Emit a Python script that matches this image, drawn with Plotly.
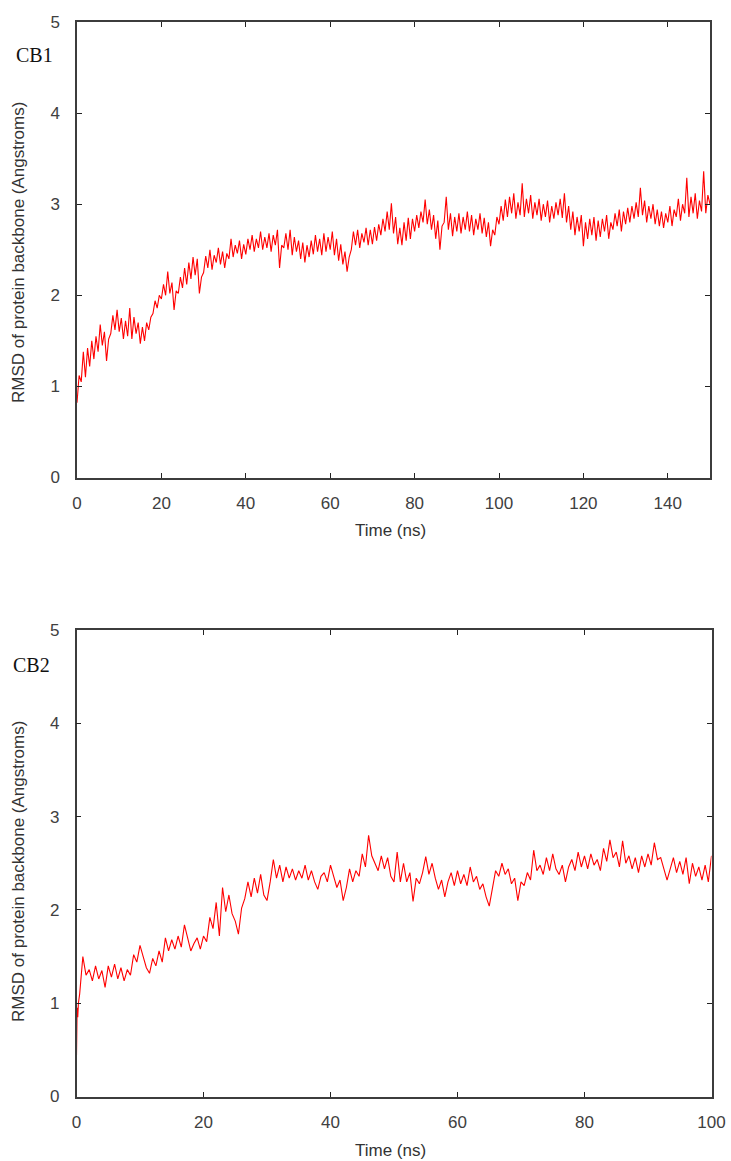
import numpy as np
import plotly.graph_objects as go

# ---------------- data ----------------
# CB1: RMSD (Angstroms) sampled every 0.5 ns from 0 to 150 ns
cb1_step = 0.5
cb1_rmsd = [
    0.82, 1.12, 1.05, 1.38, 1.10, 1.42, 1.22, 1.50, 1.30, 1.55, 1.38, 1.68, 1.45, 1.60, 1.28, 1.52, 1.58, 1.78, 1.62, 1.84,
    1.60, 1.75, 1.52, 1.72, 1.55, 1.86, 1.52, 1.76, 1.58, 1.70, 1.47, 1.65, 1.50, 1.70, 1.62, 1.76, 1.80, 1.94, 1.86, 2.00,
    1.96, 2.12, 2.00, 2.26, 2.02, 2.14, 1.84, 2.05, 2.02, 2.20, 2.08, 2.30, 2.12, 2.36, 2.18, 2.42, 2.22, 2.40, 2.02, 2.20,
    2.25, 2.43, 2.30, 2.50, 2.28, 2.44, 2.36, 2.52, 2.34, 2.48, 2.30, 2.46, 2.40, 2.62, 2.42, 2.55, 2.46, 2.60, 2.40, 2.56,
    2.45, 2.62, 2.50, 2.66, 2.48, 2.62, 2.52, 2.70, 2.50, 2.64, 2.52, 2.68, 2.48, 2.66, 2.55, 2.72, 2.30, 2.55, 2.52, 2.68,
    2.50, 2.72, 2.44, 2.64, 2.48, 2.60, 2.40, 2.58, 2.36, 2.55, 2.42, 2.60, 2.45, 2.66, 2.48, 2.62, 2.44, 2.68, 2.48, 2.64,
    2.50, 2.70, 2.44, 2.62, 2.38, 2.56, 2.34, 2.48, 2.26, 2.42, 2.50, 2.70, 2.55, 2.72, 2.52, 2.68, 2.58, 2.74, 2.55, 2.72,
    2.56, 2.75, 2.60, 2.78, 2.66, 2.84, 2.70, 2.92, 2.72, 3.01, 2.68, 2.86, 2.56, 2.74, 2.55, 2.80, 2.60, 2.85, 2.62, 2.84,
    2.70, 2.88, 2.74, 2.92, 2.80, 3.05, 2.78, 2.94, 2.72, 2.88, 2.62, 2.82, 2.50, 2.76, 2.80, 3.08, 2.72, 2.90, 2.65, 2.86,
    2.70, 2.90, 2.68, 2.86, 2.72, 2.92, 2.70, 2.88, 2.66, 2.84, 2.72, 2.90, 2.68, 2.85, 2.64, 2.80, 2.54, 2.72, 2.66, 2.86,
    2.78, 2.98, 2.82, 3.05, 2.86, 3.08, 2.90, 3.12, 2.84, 3.02, 2.88, 3.23, 2.86, 3.06, 2.90, 3.10, 2.84, 3.02, 2.88, 3.06,
    2.82, 3.00, 2.86, 3.04, 2.80, 2.98, 2.84, 3.02, 2.88, 3.06, 2.85, 3.12, 2.80, 2.98, 2.72, 2.92, 2.66, 2.86, 2.70, 2.88,
    2.54, 2.80, 2.62, 2.84, 2.66, 2.86, 2.60, 2.82, 2.64, 2.84, 2.70, 2.88, 2.62, 2.80, 2.72, 2.90, 2.76, 2.94, 2.70, 2.92,
    2.78, 2.96, 2.80, 2.98, 2.84, 3.02, 2.86, 3.18, 2.88, 3.04, 2.80, 2.98, 2.84, 3.00, 2.78, 2.94, 2.76, 2.92, 2.74, 2.90,
    2.80, 2.98, 2.76, 2.94, 2.86, 3.06, 2.82, 3.00, 2.90, 3.29, 2.86, 3.08, 2.90, 3.12, 2.84, 3.04, 2.92, 3.36, 2.90, 3.10,
    3.00,
]

# CB2: first fast rise (0-0.3 ns) then every 0.5 ns from 0.5 to 100 ns
cb2_start_time = [0.0, 0.1, 0.2, 0.3]
cb2_start_rmsd = [0.44, 0.95, 0.85, 1.00]
cb2_step = 0.5
cb2_rmsd = [
    1.10, 1.50, 1.30, 1.36, 1.24, 1.40, 1.26, 1.35, 1.17, 1.40, 1.28, 1.42, 1.26, 1.38, 1.24, 1.36, 1.30, 1.52, 1.44, 1.62,
    1.50, 1.38, 1.32, 1.48, 1.40, 1.56, 1.44, 1.70, 1.56, 1.68, 1.58, 1.72, 1.60, 1.84, 1.70, 1.56, 1.64, 1.70, 1.58, 1.72,
    1.66, 1.92, 1.80, 2.08, 1.72, 2.24, 1.98, 2.16, 1.96, 1.88, 1.74, 2.02, 2.12, 2.30, 2.14, 2.34, 2.18, 2.38, 2.16, 2.10,
    2.30, 2.54, 2.34, 2.48, 2.30, 2.46, 2.34, 2.44, 2.32, 2.42, 2.34, 2.48, 2.32, 2.42, 2.30, 2.22, 2.36, 2.40, 2.30, 2.48,
    2.36, 2.24, 2.32, 2.10, 2.24, 2.44, 2.30, 2.42, 2.36, 2.60, 2.46, 2.80, 2.58, 2.50, 2.42, 2.58, 2.44, 2.56, 2.36, 2.30,
    2.62, 2.30, 2.50, 2.30, 2.40, 2.09, 2.34, 2.28, 2.40, 2.57, 2.38, 2.50, 2.34, 2.22, 2.32, 2.14, 2.30, 2.40, 2.26, 2.42,
    2.28, 2.38, 2.26, 2.46, 2.30, 2.36, 2.22, 2.28, 2.14, 2.04, 2.22, 2.42, 2.36, 2.50, 2.38, 2.44, 2.28, 2.34, 2.10, 2.30,
    2.26, 2.40, 2.32, 2.64, 2.42, 2.48, 2.38, 2.56, 2.42, 2.60, 2.44, 2.38, 2.48, 2.30, 2.46, 2.54, 2.42, 2.62, 2.46, 2.58,
    2.44, 2.60, 2.48, 2.54, 2.42, 2.66, 2.52, 2.75, 2.56, 2.62, 2.46, 2.74, 2.50, 2.58, 2.44, 2.56, 2.40, 2.58, 2.46, 2.60,
    2.48, 2.72, 2.54, 2.56, 2.44, 2.32, 2.44, 2.56, 2.40, 2.52, 2.38, 2.56, 2.28, 2.50, 2.36, 2.46, 2.32, 2.48, 2.30, 2.58,
]

cb1_ticks = [0, 20, 40, 60, 80, 100, 120, 140]
cb2_ticks = [0, 20, 40, 60, 80, 100]
y_ticks = [0, 1, 2, 3, 4, 5]
panel_labels = ["CB1", "CB2"]
x_title = "Time (ns)"
y_title = "RMSD of protein backbone (Angstroms)"

# ---------------- build ----------------
cb1_time = np.arange(len(cb1_rmsd)) * cb1_step
cb2_time = list(cb2_start_time) + list((np.arange(len(cb2_rmsd)) + 1) * cb2_step)
cb2_all = list(cb2_start_rmsd) + list(cb2_rmsd)

W, H = 731, 1161
RED = "#ff0000"

fig = go.Figure()
fig.add_trace(go.Scatter(x=cb1_time, y=cb1_rmsd, mode="lines",
                         line=dict(color=RED, width=1.1), xaxis="x", yaxis="y",
                         showlegend=False, hoverinfo="skip"))
fig.add_trace(go.Scatter(x=cb2_time, y=cb2_all, mode="lines",
                         line=dict(color=RED, width=1.1), xaxis="x2", yaxis="y2",
                         showlegend=False, hoverinfo="skip"))

tick_font = dict(family="Liberation Sans, Arial, sans-serif", size=17, color="#404040")
axis_common = dict(showline=True, linecolor="#3c3c3c", linewidth=1.5, mirror="ticks",
                   ticks="inside", ticklen=5, tickwidth=1, tickcolor="#222222",
                   showgrid=False, zeroline=False, tickfont=tick_font, fixedrange=True,
                   automargin=False)

def px_x(p):
    return p / W

def px_y(p):
    return 1 - p / H

fig.update_layout(
    width=W, height=H, autosize=False,
    margin=dict(l=0, r=0, t=0, b=0, pad=0, autoexpand=False),
    paper_bgcolor="white", plot_bgcolor="white",
    xaxis=dict(domain=[px_x(77), px_x(710)], range=[0, 150], tickvals=cb1_ticks,
               anchor="y", ticklabelstandoff=9, **axis_common),
    yaxis=dict(domain=[px_y(477.5), px_y(22)], range=[0, 5], tickvals=y_ticks,
               anchor="x", ticklabelstandoff=12, **axis_common),
    xaxis2=dict(domain=[px_x(76.5), px_x(711.5)], range=[0, 100], tickvals=cb2_ticks,
                anchor="y2", ticklabelstandoff=9, **axis_common),
    yaxis2=dict(domain=[px_y(1096.5), px_y(630)], range=[0, 5], tickvals=y_ticks,
                anchor="x2", ticklabelstandoff=12, **axis_common),
)

title_font = dict(family="Liberation Sans, Arial, sans-serif", size=17, color="#333333")
label_font = dict(family="Liberation Serif, Times New Roman, serif", size=20, color="#111111")

annotations = [
    dict(text=x_title, x=px_x(390), y=px_y(530), xref="paper", yref="paper",
         showarrow=False, font=title_font, xanchor="center", yanchor="middle"),
    dict(text=x_title, x=px_x(390), y=px_y(1150), xref="paper", yref="paper",
         showarrow=False, font=title_font, xanchor="center", yanchor="middle"),
    dict(text=y_title, x=px_x(18), y=px_y(253), xref="paper", yref="paper", textangle=-90,
         showarrow=False, font=title_font, xanchor="center", yanchor="middle"),
    dict(text=y_title, x=px_x(18), y=px_y(872), xref="paper", yref="paper", textangle=-90,
         showarrow=False, font=title_font, xanchor="center", yanchor="middle"),
    dict(text=panel_labels[0], x=px_x(14), y=px_y(55), xref="paper", yref="paper",
         showarrow=False, font=label_font, xanchor="left", yanchor="middle"),
    dict(text=panel_labels[1], x=px_x(11), y=px_y(665), xref="paper", yref="paper",
         showarrow=False, font=label_font, xanchor="left", yanchor="middle"),
]
fig.update_layout(annotations=annotations)

fig.write_html(
    "out.html",
    config={"responsive": False, "displayModeBar": False},
    post_script="document.body.style.margin='0';document.body.style.padding='0';"
                "document.body.style.overflow='hidden';"
                "document.documentElement.style.overflow='hidden';",
)
